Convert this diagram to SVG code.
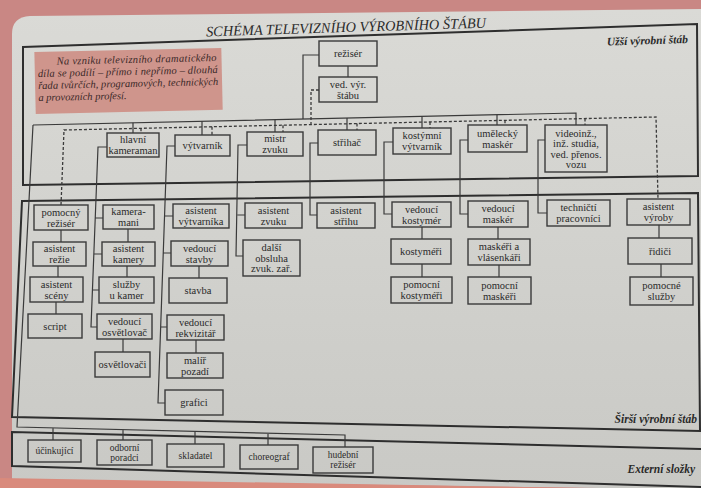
<svg xmlns="http://www.w3.org/2000/svg" width="701" height="488" viewBox="0 0 701 488">
<defs>
<linearGradient id="page" x1="0" y1="0" x2="0" y2="1">
<stop offset="0" stop-color="#dadad6"/>
<stop offset="1" stop-color="#c9c9c5"/>
</linearGradient>
<style>
.box{fill:none;stroke:#3a3a3a;stroke-width:1.4}
.frame{fill:none;stroke:#2e2e2e;stroke-width:2}
.ln{fill:none;stroke:#3a3a3a;stroke-width:1.2}
.dot{fill:none;stroke:#3a3a3a;stroke-width:1.3;stroke-dasharray:3 2}
.t{font-family:"Liberation Serif","DejaVu Serif",serif;font-size:10.5px;fill:#2a2a2a;text-anchor:middle}
.te{font-family:"Liberation Serif","DejaVu Serif",serif;font-size:9.5px;fill:#2a2a2a;text-anchor:middle}
.lab{font-family:"Liberation Serif","DejaVu Serif",serif;font-size:11.5px;font-style:italic;font-weight:bold;fill:#2a2a2a;text-anchor:end}
.note{font-family:"Liberation Serif","DejaVu Serif",serif;font-size:10.5px;font-style:italic;fill:#3a2828}
</style>
</defs>
<rect x="0" y="0" width="701" height="488" fill="#c98784"/>
<path d="M12,480 L12,34 Q12,17 30,16 L701,9 L701,488 L600,488 Z" fill="url(#page)"/>
<path d="M0,478 L701,490 L701,488 L0,488 Z" fill="#d98a7c"/>
<text x="346" y="32" font-family="Liberation Serif, serif" font-style="italic" font-size="14.5" fill="#2a2a2a" text-anchor="middle" textLength="280" lengthAdjust="spacingAndGlyphs" transform="rotate(-1.8 346 28)">SCHÉMA TELEVIZNÍHO VÝROBNÍHO ŠTÁBU</text>
<g id="frames">
<path class="frame" d="M23,47 L697,24 L698,176 L23,185 Z"/>
<path class="frame" d="M22,201 L698,193 L700,431 L12,417 Z"/>
<path class="frame" d="M701,449 L12,432 L12,466 L701,487"/>
</g>
<text class="lab" x="688" y="43" transform="rotate(-1.8 688 43)">Užší výrobní štáb</text>
<text class="lab" x="697" y="423">Širší výrobní štáb</text>
<text class="lab" x="695" y="473">Externí složky</text>
<g id="note" transform="rotate(-1.3 128 80)">
<rect x="35" y="50" width="187" height="62" fill="#cf958c"/>
<text class="note" x="57" y="63" textLength="160" lengthAdjust="spacing">Na vzniku televizního dramatického</text>
<text class="note" x="38" y="75" textLength="180" lengthAdjust="spacing">díla se podílí – přímo i nepřímo – dlouhá</text>
<text class="note" x="38" y="87" textLength="180" lengthAdjust="spacing">řada tvůrčích, programových, technických</text>
<text class="note" x="38" y="99">a provozních profesí.</text>
</g>
<g id="connectors">
<path class="ln" d="M33,125 L576,113 L576,125"/>
<path class="ln" d="M133,122.8 V133 M202,121.3 V135 M275,119.7 V132 M347,118.1 V130 M422,116.4 V128 M497,114.7 V125"/>
<path class="ln" d="M319,55 H303 V119 M348,66 V77"/>
<path class="dot" d="M61,205 L64,130 L656,117 L658,199"/>
<path class="dot" d="M141,128.3 V133 M212,126.7 V135 M283,125.2 V132 M357,123.6 V130 M430,122 V128 M505,120.3 V125 M585,118.6 V125"/>
<path class="dot" d="M319,90 H311 V124.6"/>
<path class="ln" d="M61,230 V242 M58,266 V277 M56,302 V314"/>
<path class="ln" d="M107,147 H98 L91,327 H97 M95.2,218 H103 M93.8,254 H102 M92.4,290 H99"/>
<path class="ln" d="M128,229 V242 M127,266 V277 M123,339 V352"/>
<path class="ln" d="M175,146 H167 L158,403 H165 M164.5,216 H173 M163.3,253 H171 M160.7,327 H167"/>
<path class="ln" d="M199,266 V278 M196,340 V353"/>
<path class="ln" d="M247,145 H238 L236,256 H243 M237.5,215 H245"/>
<path class="ln" d="M318,143 H310 V215 H317"/>
<path class="ln" d="M393,142 H384 V214 H392 M422,227 V239 M422,264 V277"/>
<path class="ln" d="M468,140 H460 V214 H468 M498,227 V239 M499,265 V277"/>
<path class="ln" d="M545,140 H538 V213 H547"/>
<path class="ln" d="M659,225 V238 M661,264 V277"/>
<path class="ln" d="M33,125 L17,427 L345,435 V447 M53,427.9 V440 M123,429.6 V440 M195,431.3 V444 M268,433.1 V445"/>
</g>
<g id="n-rezizer"><rect class="box" x="319" y="41" width="58" height="25"/><text class="t" x="348" y="57.2">režisér</text></g>
<g id="n-ved"><rect class="box" x="319" y="77" width="58" height="25"/><text class="t" x="348" y="87.7">ved. výr.<tspan x="348" dy="11">štábu</tspan></text></g>
<g id="n-hlavni"><rect class="box" x="107" y="133" width="52" height="24"/><text class="t" x="133" y="143.2">hlavní<tspan x="133" dy="11">kameraman</tspan></text></g>
<g id="n-vytvarnik"><rect class="box" x="175" y="135" width="55" height="21"/><text class="t" x="202.5" y="149.2">výtvarník</text></g>
<g id="n-mistr"><rect class="box" x="247" y="132" width="56" height="24"/><text class="t" x="275" y="142.2">mistr<tspan x="275" dy="11">zvuku</tspan></text></g>
<g id="n-strihac"><rect class="box" x="318" y="130" width="58" height="25"/><text class="t" x="347" y="146.2">střihač</text></g>
<g id="n-kostymni"><rect class="box" x="393" y="128" width="58" height="26"/><text class="t" x="422" y="139.2">kostýmní<tspan x="422" dy="11">výtvarník</tspan></text></g>
<g id="n-umelecky"><rect class="box" x="468" y="125" width="59" height="27"/><text class="t" x="497.5" y="136.7">umělecký<tspan x="497.5" dy="11">maskér</tspan></text></g>
<g id="n-video"><rect class="box" x="545" y="125" width="62" height="47"/><text class="t" x="576" y="136.5">videoinž.,<tspan x="576" dy="10.5">inž. studia,</tspan><tspan x="576" dy="10.5">ved. přenos.</tspan><tspan x="576" dy="10.5">vozu</tspan></text></g>
<g id="n-pomocny"><rect class="box" x="34" y="205" width="54" height="25"/><text class="t" x="61" y="215.7">pomocný<tspan x="61" dy="11">režisér</tspan></text></g>
<g id="n-asist-rezie"><rect class="box" x="33" y="242" width="53" height="24"/><text class="t" x="59.5" y="252.2">asistent<tspan x="59.5" dy="11">režie</tspan></text></g>
<g id="n-asist-sceny"><rect class="box" x="30" y="277" width="53" height="25"/><text class="t" x="56.5" y="287.7">asistent<tspan x="56.5" dy="11">scény</tspan></text></g>
<g id="n-script"><rect class="box" x="28" y="314" width="54" height="24"/><text class="t" x="55" y="329.7">script</text></g>
<g id="n-kameramani"><rect class="box" x="103" y="205" width="51" height="24"/><text class="t" x="128.5" y="215.2">kamera-<tspan x="128.5" dy="11">mani</tspan></text></g>
<g id="n-asist-kamery"><rect class="box" x="102" y="242" width="53" height="24"/><text class="t" x="128.5" y="252.2">asistent<tspan x="128.5" dy="11">kamery</tspan></text></g>
<g id="n-sluzby"><rect class="box" x="99" y="277" width="55" height="26"/><text class="t" x="126.5" y="288.2">služby<tspan x="126.5" dy="11">u kamer</tspan></text></g>
<g id="n-ved-osvet"><rect class="box" x="97" y="314" width="55" height="25"/><text class="t" x="124.5" y="324.7">vedoucí<tspan x="124.5" dy="11">osvětlovač</tspan></text></g>
<g id="n-osvetlovaci"><rect class="box" x="95" y="352" width="55" height="25"/><text class="t" x="122.5" y="368.2">osvětlovači</text></g>
<g id="n-asist-vytv"><rect class="box" x="173" y="204" width="56" height="24"/><text class="t" x="201" y="214.2">asistent<tspan x="201" dy="11">výtvarníka</tspan></text></g>
<g id="n-ved-stavby"><rect class="box" x="171" y="241" width="57" height="25"/><text class="t" x="199.5" y="251.7">vedoucí<tspan x="199.5" dy="11">stavby</tspan></text></g>
<g id="n-stavba"><rect class="box" x="169" y="278" width="58" height="25"/><text class="t" x="198" y="294.2">stavba</text></g>
<g id="n-ved-rekv"><rect class="box" x="167" y="315" width="57" height="25"/><text class="t" x="195.5" y="325.7">vedoucí<tspan x="195.5" dy="11">rekvizitář</tspan></text></g>
<g id="n-malir"><rect class="box" x="167" y="353" width="56" height="25"/><text class="t" x="195" y="363.7">malíř<tspan x="195" dy="11">pozadí</tspan></text></g>
<g id="n-grafici"><rect class="box" x="165" y="390" width="58" height="25"/><text class="t" x="194" y="406.2">grafici</text></g>
<g id="n-asist-zvuku"><rect class="box" x="245" y="203" width="57" height="25"/><text class="t" x="273.5" y="213.7">asistent<tspan x="273.5" dy="11">zvuku</tspan></text></g>
<g id="n-dalsi"><rect class="box" x="243" y="240" width="57" height="36"/><text class="t" x="271.5" y="251">další<tspan x="271.5" dy="10.7">obsluha</tspan><tspan x="271.5" dy="10.7">zvuk. zař.</tspan></text></g>
<g id="n-asist-strihu"><rect class="box" x="317" y="203" width="58" height="25"/><text class="t" x="346" y="213.7">asistent<tspan x="346" dy="11">střihu</tspan></text></g>
<g id="n-ved-kost"><rect class="box" x="392" y="202" width="59" height="25"/><text class="t" x="421.5" y="212.7">vedoucí<tspan x="421.5" dy="11">kostymér</tspan></text></g>
<g id="n-kostymeri"><rect class="box" x="391" y="239" width="60" height="25"/><text class="t" x="421" y="255.2">kostyméři</text></g>
<g id="n-pom-kost"><rect class="box" x="391" y="277" width="61" height="26"/><text class="t" x="421.5" y="288.2">pomocní<tspan x="421.5" dy="11">kostyméři</tspan></text></g>
<g id="n-ved-mask"><rect class="box" x="468" y="201" width="60" height="26"/><text class="t" x="498" y="212.2">vedoucí<tspan x="498" dy="11">maskér</tspan></text></g>
<g id="n-maskeri"><rect class="box" x="468" y="239" width="62" height="26"/><text class="t" x="499" y="250.2">maskéři a<tspan x="499" dy="11">vlásenkáři</tspan></text></g>
<g id="n-pom-mask"><rect class="box" x="468" y="277" width="63" height="27"/><text class="t" x="499.5" y="288.7">pomocní<tspan x="499.5" dy="11">maskéři</tspan></text></g>
<g id="n-technicti"><rect class="box" x="547" y="200" width="63" height="26"/><text class="t" x="578.5" y="211.2">techničtí<tspan x="578.5" dy="11">pracovníci</tspan></text></g>
<g id="n-asist-vyroby"><rect class="box" x="627" y="199" width="63" height="26"/><text class="t" x="658.5" y="210.2">asistent<tspan x="658.5" dy="11">výroby</tspan></text></g>
<g id="n-ridici"><rect class="box" x="628" y="238" width="64" height="26"/><text class="t" x="660" y="254.7">řidiči</text></g>
<g id="n-pom-sluzby"><rect class="box" x="630" y="277" width="63" height="28"/><text class="t" x="661.5" y="289.2">pomocné<tspan x="661.5" dy="11">služby</tspan></text></g>
<g id="n-ucinkujici"><rect class="box" x="28" y="440" width="53" height="22"/><text class="te" x="54.5" y="454.3">účinkující</text></g>
<g id="n-odborni"><rect class="box" x="97" y="440" width="55" height="25"/><text class="te" x="124.5" y="450.8">odborní<tspan x="124.5" dy="10">poradci</tspan></text></g>
<g id="n-skladatel"><rect class="box" x="167" y="444" width="57" height="23"/><text class="te" x="195.5" y="458.8">skladatel</text></g>
<g id="n-choreograf"><rect class="box" x="240" y="445" width="58" height="24"/><text class="te" x="269" y="460.3">choreograf</text></g>
<g id="n-hudebni"><rect class="box" x="313" y="447" width="60" height="26"/><text class="te" x="343" y="458.3">hudební<tspan x="343" dy="10">režisér</tspan></text></g>
</svg>
